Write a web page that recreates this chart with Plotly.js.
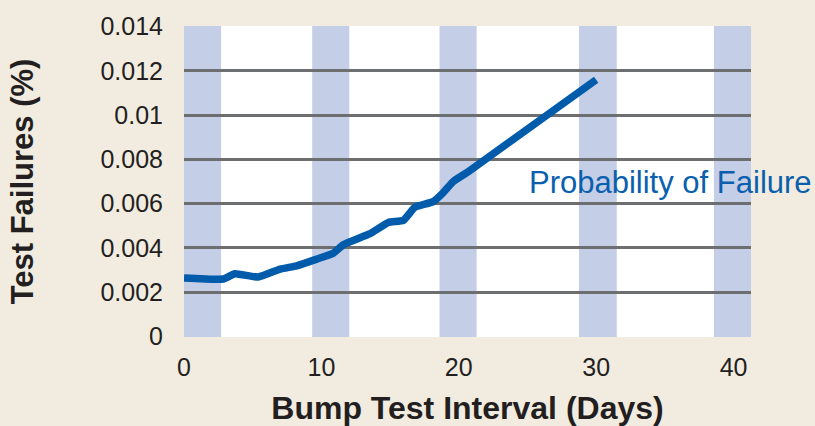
<!DOCTYPE html>
<html>
<head>
<meta charset="utf-8">
<script src="https://cdn.plot.ly/plotly-3.0.1.min.js"></script>
<style>
html,body{margin:0;padding:0;background:#f2ece0;}
#chart{width:815px;height:426px;}
</style>
</head>
<body>
<div id="chart"></div>
<script>
// Data
const intervalDays = [0, 2.86, 3.71, 5.4, 7.0, 8.2, 9.66, 10.87, 11.6, 13.54, 14.87, 15.96, 16.81, 18.14, 18.87, 19.6, 20.7, 30.0];
const failurePct   = [0.00264, 0.00259, 0.00283, 0.00268, 0.00304, 0.00319, 0.00349, 0.00376, 0.00414, 0.00464, 0.00515, 0.00524, 0.00584, 0.00609, 0.0065, 0.0070, 0.00745, 0.0116];
const bandStarts = [0, 9.33, 18.6, 28.75, 38.57];
const bandEnds   = [2.7, 12.03, 21.3, 31.5, 41.27];
const xTickVals = [0, 10, 20, 30, 40];
const xTickText = ['0', '10', '20', '30', '40'];
const yTickVals = [0, 0.002, 0.004, 0.006, 0.008, 0.01, 0.012, 0.014];
const yTickText = ['0', '0.002', '0.004', '0.006', '0.008', '0.01', '0.012', '0.014'];
const seriesLabel = 'Probability of Failure';

const textColor = '#231f20';
const gridColor = '#6d6e70';

const shapes = bandStarts.map((s, i) => ({
  type: 'rect', xref: 'x', yref: 'paper', x0: s, x1: bandEnds[i], y0: 0, y1: 1,
  fillcolor: '#c5cee7', line: {width: 0}, layer: 'below'
}));

const trace = {
  x: intervalDays, y: failurePct, type: 'scatter', mode: 'lines',
  line: {color: '#005bab', width: 7.5, shape: 'spline', smoothing: 0.4},
  hoverinfo: 'skip', showlegend: false
};

const layout = {
  width: 815, height: 426,
  paper_bgcolor: '#f2ece0', plot_bgcolor: '#ffffff',
  margin: {l: 184, r: 64, t: 26, b: 89, pad: 0},
  font: {family: 'Liberation Sans, Arial, sans-serif', color: textColor},
  showlegend: false,
  xaxis: {
    range: [0, 41.27], tickmode: 'array', tickvals: xTickVals, ticktext: xTickText,
    showgrid: false, zeroline: false, showline: false,
    ticks: 'outside', ticklen: 8, tickcolor: 'rgba(0,0,0,0)',
    tickfont: {size: 25, color: textColor},
    title: {text: 'Bump Test Interval (Days)', font: {size: 32, color: textColor, family: 'Liberation Sans, Arial, sans-serif', weight: 'bold'}, standoff: 17},
    fixedrange: true
  },
  yaxis: {
    range: [-0.00003, 0.01403], tickmode: 'array', tickvals: yTickVals, ticktext: yTickText,
    showgrid: true, gridcolor: gridColor, gridwidth: 3,
    zeroline: false, showline: false,
    ticks: 'outside', ticklen: 15, tickcolor: 'rgba(0,0,0,0)',
    tickfont: {size: 25, color: textColor},
    title: {text: 'Test Failures (%)', font: {size: 31, color: textColor, family: 'Liberation Sans, Arial, sans-serif', weight: 'bold'}, standoff: 57},
    fixedrange: true
  },
  shapes: shapes,
  annotations: [{
    xref: 'x', yref: 'y', x: 24.95, y: 0.00697, xanchor: 'left', yanchor: 'middle',
    text: seriesLabel, showarrow: false,
    font: {size: 31, color: '#0a5fae', family: 'Liberation Sans, Arial, sans-serif'}
  }]
};

Plotly.newPlot('chart', [trace], layout, {displayModeBar: false, staticPlot: true});
</script>
</body>
</html>
